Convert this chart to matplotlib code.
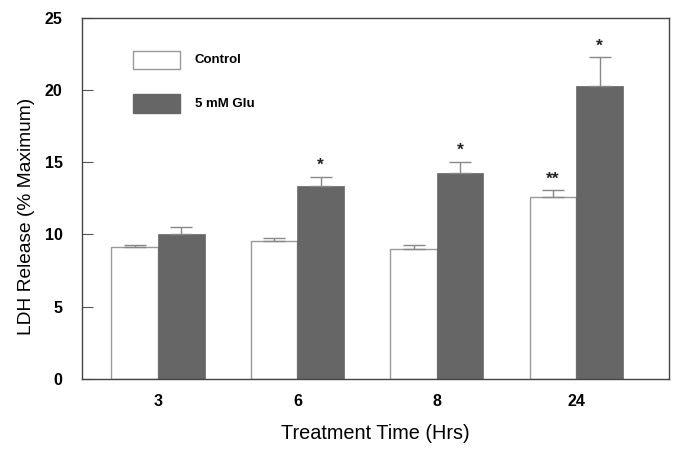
import matplotlib.pyplot as plt
from matplotlib.patches import Rectangle
import numpy as np

plt.rcParams["font.family"] = ["Liberation Sans", "DejaVu Sans"]

times = ["3", "6", "8", "24"]
control = [9.11, 9.52, 8.99, 12.56]
control_err = [0.18, 0.23, 0.30, 0.51]
glu = [10.01, 13.33, 14.26, 20.28]
glu_err = [0.50, 0.67, 0.78, 1.99]
control_marks = ["", "", "", "**"]
glu_marks = ["", "*", "*", "*"]
legend_labels = ["Control", "5 mM Glu"]


def main():
    fig = plt.figure(figsize=(6.85, 4.49), dpi=100)
    ax = fig.add_axes([82 / 685, 1 - 378.7 / 449, 586.7 / 685, 360.7 / 449])

    x = np.arange(len(times))
    w = 0.334
    err_kw = dict(ecolor="#888888", elinewidth=1.0, capsize=8, capthick=1.0)

    ax.bar(x - w / 2, control, w, color="white", edgecolor="#999999",
           linewidth=1.0, yerr=[np.zeros(4), control_err], error_kw=err_kw,
           zorder=2)
    ax.bar(x + w / 2, glu, w, color="#666666", edgecolor="#666666",
           linewidth=0.5, yerr=[np.zeros(4), glu_err], error_kw=err_kw,
           zorder=2)

    for i in range(len(times)):
        if control_marks[i]:
            ax.text(x[i] - w / 2, control[i] + control_err[i] + 0.25,
                    control_marks[i], ha="center", va="bottom",
                    fontsize=12.5, fontweight="bold", color="#222222")
        if glu_marks[i]:
            ax.text(x[i] + w / 2, glu[i] + glu_err[i] + 0.25,
                    glu_marks[i], ha="center", va="bottom",
                    fontsize=12.5, fontweight="bold", color="#222222")

    ax.set_xlim(-0.545, 3.663)
    ax.set_ylim(0, 25)
    ax.set_xticks(x)
    ax.set_xticklabels(times, fontsize=11.5, fontweight="bold")
    ax.set_yticks([0, 5, 10, 15, 20, 25])
    ax.set_yticklabels(["0", "5", "10", "15", "20", "25"],
                       fontsize=11.5, fontweight="bold")
    ax.tick_params(axis="y", direction="in", length=8, color="#555555", pad=14)
    ax.tick_params(axis="x", length=0, pad=11)
    for s in ax.spines.values():
        s.set_color("#444444")
        s.set_linewidth(1.0)

    ax.set_xlabel("Treatment Time (Hrs)", fontsize=14.3, labelpad=11)
    ax.set_ylabel("LDH Release (% Maximum)", fontsize=13.8)
    ax.yaxis.set_label_coords(-0.080, 0.451)

    # legend drawn by hand to match the boxed swatches
    faces = ["white", "#666666"]
    edges = ["#999999", "#666666"]
    ys = [0.858, 0.7366]
    for lab, fc, ec, y0 in zip(legend_labels, faces, edges, ys):
        ax.add_patch(Rectangle((0.0875, y0), 0.0796, 0.0516,
                               transform=ax.transAxes, facecolor=fc,
                               edgecolor=ec, linewidth=1.0, zorder=3))
        ax.text(0.1926, y0 + 0.0258, lab, transform=ax.transAxes,
                ha="left", va="center", fontsize=9.5, fontweight="bold")

    fig.savefig("out.png", dpi=100)


if __name__ == "__main__":
    main()
